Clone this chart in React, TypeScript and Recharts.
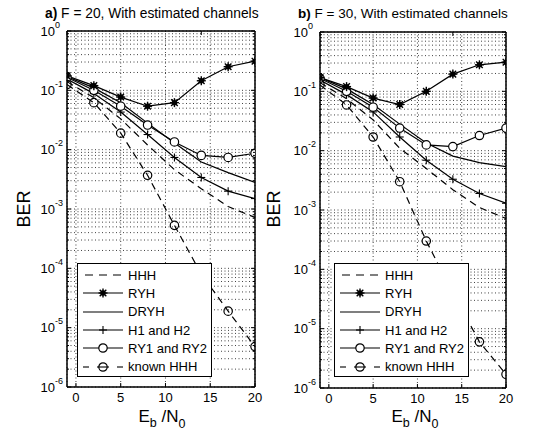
import React from 'react';
import { LineChart, Line, XAxis, YAxis, CartesianGrid, Legend } from 'recharts';

const FONT = '"Liberation Sans", Arial, Helvetica, sans-serif';

// Eb/N0 values where the curves are sampled
const snr = [-1, 2, 5, 8, 11, 14, 17, 20];
const xTicks = [0, 5, 10, 15, 20];
const decades = [1e-6, 1e-5, 1e-4, 1e-3, 1e-2, 1e-1];
const minorSteps = [1, 2, 3, 4, 5, 6, 7, 8, 9];
const yTicks = [...decades.flatMap((d) => minorSteps.map((m) => d * m)), 1];

// a) F = 20
const hhhF20 = [0.14, 0.075, 0.033, 0.012, 0.0046, 0.0022, 0.0011, 0.00072];
const ryhF20 = [0.175, 0.12, 0.077, 0.054, 0.062, 0.145, 0.25, 0.31];
const dryhF20 = [0.17, 0.11, 0.062, 0.028, 0.013, 0.0062, 0.0041, 0.0028];
const h1h2F20 = [0.155, 0.088, 0.043, 0.018, 0.0074, 0.0034, 0.002, 0.0015];
const ry1ry2F20 = [0.165, 0.1, 0.054, 0.026, 0.0135, 0.008, 0.0074, 0.0087];
const knownF20 = [0.125, 0.062, 0.019, 0.0037, 0.00053, 0.00008, 0.000019, 0.0000048];

// b) F = 30
const hhhF30 = [0.14, 0.075, 0.033, 0.011, 0.005, 0.0022, 0.0011, 0.00072];
const ryhF30 = [0.17, 0.12, 0.077, 0.06, 0.1, 0.195, 0.28, 0.31];
const dryhF30 = [0.17, 0.11, 0.06, 0.028, 0.0135, 0.0081, 0.0063, 0.0054];
const h1h2F30 = [0.155, 0.088, 0.045, 0.017, 0.0069, 0.0033, 0.0019, 0.0013];
const ry1ry2F30 = [0.165, 0.1, 0.054, 0.024, 0.0125, 0.0117, 0.018, 0.024];
const knownF30 = [0.128, 0.059, 0.017, 0.003, 0.0003, 0.00004, 0.000006, 0.0000017];

const seriesNames = ['HHH', 'RYH', 'DRYH', 'H1 and H2', 'RY1 and RY2', 'known HHH'];
const seriesKeys = ['hhh', 'ryh', 'dryh', 'h1h2', 'ry1ry2', 'known'];

function buildRows(cols: number[][]) {
  return snr.map((x, i) => {
    const row: any = { x };
    seriesKeys.forEach((k, j) => {
      row[k] = cols[j][i];
    });
    return row;
  });
}

const dataF20 = buildRows([hhhF20, ryhF20, dryhF20, h1h2F20, ry1ry2F20, knownF20]);
const dataF30 = buildRows([hhhF30, ryhF30, dryhF30, h1h2F30, ry1ry2F30, knownF30]);

const DASH = '7 5';

function StarMark({ cx, cy }: { cx: number; cy: number }) {
  const a = 4.5;
  const b = 3.3;
  return (
    <g stroke="#000" strokeWidth={1.4}>
      <line x1={cx - a} y1={cy} x2={cx + a} y2={cy} />
      <line x1={cx} y1={cy - a} x2={cx} y2={cy + a} />
      <line x1={cx - b} y1={cy - b} x2={cx + b} y2={cy + b} />
      <line x1={cx - b} y1={cy + b} x2={cx + b} y2={cy - b} />
      <circle cx={cx} cy={cy} r={2} fill="#000" />
    </g>
  );
}
function PlusMark({ cx, cy }: { cx: number; cy: number }) {
  const a = 4;
  return (
    <g stroke="#000" strokeWidth={1.1}>
      <line x1={cx - a} y1={cy} x2={cx + a} y2={cy} />
      <line x1={cx} y1={cy - a} x2={cx} y2={cy + a} />
    </g>
  );
}
function CircleMark({ cx, cy, filled }: { cx: number; cy: number; filled: boolean }) {
  return <circle cx={cx} cy={cy} r={4.2} stroke="#000" strokeWidth={1.2} fill={filled ? '#fff' : 'none'} />;
}

const dotFor = (kind: string) => (p: any) => {
  if (p.cx == null || p.cy == null || !isFinite(p.cx) || !isFinite(p.cy)) return <g key={p.index} />;
  if (kind === 'star') return <StarMark key={p.index} cx={p.cx} cy={p.cy} />;
  if (kind === 'plus') return <PlusMark key={p.index} cx={p.cx} cy={p.cy} />;
  if (kind === 'circle') return <CircleMark key={p.index} cx={p.cx} cy={p.cy} filled />;
  return <CircleMark key={p.index} cx={p.cx} cy={p.cy} filled={false} />;
};

function isDecade(v: number) {
  const lg = Math.log10(v);
  return Math.abs(lg - Math.round(lg)) < 1e-6;
}

function YTickLeft(props: any) {
  const { x, y, payload } = props;
  const v = payload.value;
  const major = isDecade(v);
  const exp = Math.round(Math.log10(v));
  return (
    <g>
      <line x1={x} y1={y} x2={x + (major ? 4 : 2)} y2={y} stroke="#000" strokeWidth={1} />
      {major && (
        <>
          <text x={x - 12} y={y + 4.5} textAnchor="end" fontSize={13} fontFamily={FONT} fill="#000">
            10
          </text>
          <text x={x - 12} y={y - 3.5} textAnchor="start" fontSize={9} fontFamily={FONT} fill="#000">
            {String(exp)}
          </text>
        </>
      )}
    </g>
  );
}
function YTickRight(props: any) {
  const { x, y, payload } = props;
  const major = isDecade(payload.value);
  return <line x1={x} y1={y} x2={x - (major ? 4 : 2)} y2={y} stroke="#000" strokeWidth={1} />;
}
function XTickBottom(props: any) {
  const { x, y, payload } = props;
  return (
    <g>
      <line x1={x} y1={y} x2={x} y2={y - 4} stroke="#000" strokeWidth={1} />
      <text x={x} y={y + 15} textAnchor="middle" fontSize={13} fontFamily={FONT} fill="#000">
        {String(payload.value)}
      </text>
    </g>
  );
}
function XTickTop(props: any) {
  const { x, y } = props;
  return <line x1={x} y1={y} x2={x} y2={y + 4} stroke="#000" strokeWidth={1} />;
}

function LegendIcon({ idx }: { idx: number }) {
  const y = 6;
  const c = 20;
  return (
    <svg width={40} height={12} style={{ display: 'block', overflow: 'visible' }}>
      {idx === 0 && <line x1={2} y1={y} x2={40} y2={y} stroke="#000" strokeWidth={1.1} strokeDasharray="8 6" />}
      {idx >= 1 && idx <= 4 && <line x1={0} y1={y} x2={40} y2={y} stroke="#000" strokeWidth={1.1} />}
      {idx === 5 && (
        <g stroke="#000" strokeWidth={1.1}>
          <line x1={0} y1={y} x2={6} y2={y} />
          <line x1={14} y1={y} x2={26} y2={y} />
          <line x1={34} y1={y} x2={40} y2={y} />
        </g>
      )}
      {idx === 1 && <StarMark cx={c} cy={y} />}
      {idx === 3 && <PlusMark cx={c} cy={y} />}
      {idx === 4 && <CircleMark cx={c} cy={y} filled />}
      {idx === 5 && <CircleMark cx={c} cy={y} filled={false} />}
    </svg>
  );
}

function LegendBox() {
  return (
    <div
      style={{
        boxSizing: 'border-box',
        width: '100%',
        height: '100%',
        border: '1px solid #000',
        background: '#fff',
        paddingTop: 2,
        fontFamily: FONT,
        fontSize: 13,
        color: '#000',
      }}
    >
      {seriesNames.map((n, i) => (
        <div key={n} style={{ display: 'flex', alignItems: 'center', height: 18.3, paddingLeft: 5 }}>
          <LegendIcon idx={i} />
          <span style={{ marginLeft: 5, whiteSpace: 'nowrap', lineHeight: '13px' }}>{n}</span>
        </div>
      ))}
    </div>
  );
}

type PanelProps = {
  left: number;
  width: number;
  yAxisWidth: number;
  marginTop: number;
  marginRight: number;
  bottomHeight: number;
  legendLeft: number;
  data: any[];
};

function Panel({ left, width, yAxisWidth, marginTop, marginRight, bottomHeight, legendLeft, data }: PanelProps) {
  const axisLine = { stroke: '#000', strokeWidth: 1.5 };
  return (
    <div style={{ position: 'absolute', left, top: 0 }}>
      <LineChart width={width} height={434} data={data} margin={{ top: marginTop, right: marginRight, bottom: 0, left: 0 }}>
        <CartesianGrid stroke="#111" strokeWidth={0.8} strokeDasharray="1 2.5" />
        <XAxis
          dataKey="x"
          type="number"
          domain={[-1, 20]}
          ticks={xTicks}
          interval={0}
          allowDataOverflow
          height={bottomHeight}
          axisLine={axisLine}
          tickLine={false}
          tickSize={0}
          tickMargin={0}
          tick={XTickBottom}
        />
        <XAxis
          xAxisId="t"
          orientation="top"
          type="number"
          domain={[-1, 20]}
          ticks={xTicks}
          interval={0}
          allowDataOverflow
          height={1}
          axisLine={axisLine}
          tickLine={false}
          tickSize={0}
          tickMargin={0}
          tick={XTickTop}
        />
        <YAxis
          type="number"
          scale="log"
          domain={[1e-6, 1]}
          ticks={yTicks}
          interval={0}
          allowDataOverflow
          width={yAxisWidth}
          axisLine={axisLine}
          tickLine={false}
          tickSize={0}
          tickMargin={0}
          tick={YTickLeft}
        />
        <YAxis
          yAxisId="r"
          orientation="right"
          type="number"
          scale="log"
          domain={[1e-6, 1]}
          ticks={yTicks}
          interval={0}
          allowDataOverflow
          width={1}
          axisLine={axisLine}
          tickLine={false}
          tickSize={0}
          tickMargin={0}
          tick={YTickRight}
        />
        <Line dataKey="hhh" name="HHH" stroke="#000" strokeWidth={1.2} strokeDasharray={DASH} dot={false} activeDot={false} isAnimationActive={false} />
        <Line dataKey="dryh" name="DRYH" stroke="#000" strokeWidth={1.2} dot={false} activeDot={false} isAnimationActive={false} />
        <Line dataKey="h1h2" name="H1 and H2" stroke="#000" strokeWidth={1.2} dot={dotFor('plus')} activeDot={false} isAnimationActive={false} />
        <Line dataKey="ry1ry2" name="RY1 and RY2" stroke="#000" strokeWidth={1.2} dot={dotFor('circle')} activeDot={false} isAnimationActive={false} />
        <Line dataKey="known" name="known HHH" stroke="#000" strokeWidth={1.2} strokeDasharray={DASH} dot={dotFor('open')} activeDot={false} isAnimationActive={false} />
        <Line dataKey="ryh" name="RYH" stroke="#000" strokeWidth={1.2} dot={dotFor('star')} activeDot={false} isAnimationActive={false} />
        <Legend
          layout="vertical"
          align="center"
          verticalAlign="middle"
          content={() => <LegendBox />}
          wrapperStyle={{ left: legendLeft, top: 263, width: 135, height: 114, margin: 0, padding: 0 }}
        />
      </LineChart>
    </div>
  );
}

function Labels() {
  return (
    <svg width={541} height={434} style={{ position: 'absolute', left: 0, top: 0, pointerEvents: 'none' }}>
      <g fontFamily={FONT} fill="#000">
        <text x={45} y={18} fontSize={13.8}>
          <tspan fontWeight="bold">a)</tspan> F = 20, With estimated channels
        </text>
        <text x={298} y={18} fontSize={13.5}>
          <tspan fontWeight="bold">b)</tspan> F = 30, With estimated channels
        </text>
        <text x={24} y={209} fontSize={18} textAnchor="middle" dominantBaseline="central" transform="rotate(-90 24 209)">
          BER
        </text>
        <text x={274} y={209} fontSize={18} textAnchor="middle" dominantBaseline="central" transform="rotate(-90 274 209)">
          BER
        </text>
        <text x={162} y={422} fontSize={17} textAnchor="middle">
          E<tspan fontSize={12.5} dy={5}>b</tspan>
          <tspan fontSize={17} dy={-5}> /N</tspan>
          <tspan fontSize={12.5} dy={6}>0</tspan>
        </text>
        <text x={415} y={422} fontSize={17} textAnchor="middle">
          E<tspan fontSize={12.5} dy={5}>b</tspan>
          <tspan fontSize={17} dy={-5}> /N</tspan>
          <tspan fontSize={12.5} dy={6}>0</tspan>
        </text>
      </g>
    </svg>
  );
}

export default function App() {
  return (
    <div style={{ position: 'absolute', left: 0, top: 0, width: 541, height: 434, background: '#fff', fontFamily: FONT }}>
      <Panel left={0} width={270} yAxisWidth={67} marginTop={30} marginRight={14} bottomHeight={47} legendLeft={77} data={dataF20} />
      <Panel left={270} width={271} yAxisWidth={50} marginTop={31} marginRight={34} bottomHeight={46} legendLeft={64} data={dataF30} />
      <Labels />
    </div>
  );
}
